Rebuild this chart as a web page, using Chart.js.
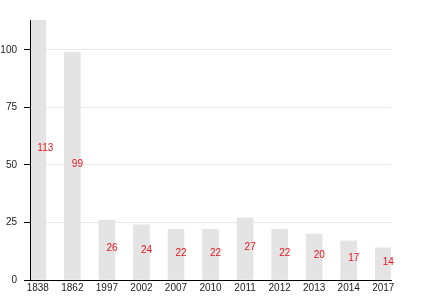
<!DOCTYPE html>
<html><head><meta charset="utf-8">
<script src="https://cdn.jsdelivr.net/npm/chart.js@4"></script>
<style>html,body{margin:0;padding:0;background:#fff}</style>
</head><body>
<canvas id="c" width="430" height="300"></canvas>
<script>
const categories = ['1838','1862','1997','2002','2007','2010','2011','2012','2013','2014','2017'];
const values = [113, 99, 26, 24, 22, 22, 27, 22, 20, 17, 14];
const yTicks = [0, 25, 50, 75, 100];
const yMax = 113;

const FONT = "'Liberation Sans', Arial, sans-serif";

const overlayPlugin = {
  id: 'overlay',
  afterDatasetsDraw(chart) {
    const ctx = chart.ctx;
    const meta = chart.getDatasetMeta(0);
    const ys = chart.scales.y;
    const area = chart.chartArea;
    ctx.save();
    // keep the y-axis line visible above the bars
    ctx.strokeStyle = '#000';
    ctx.lineWidth = 1;
    ctx.beginPath();
    const bx = Math.round(area.left) + 0.5;
    ctx.moveTo(bx, area.top);
    ctx.lineTo(bx, area.bottom);
    ctx.stroke();
    // value labels at half bar height
    ctx.fillStyle = '#e8141c';
    ctx.font = '10px ' + FONT;
    ctx.textAlign = 'left';
    ctx.textBaseline = 'alphabetic';
    meta.data.forEach((bar, i) => {
      const y = ys.getPixelForValue(values[i] / 2);
      ctx.fillText(String(values[i]), bar.x - 0.5, y + 1);
    });
    ctx.restore();
  }
};

new Chart(document.getElementById('c'), {
  type: 'bar',
  data: {
    datasets: [{
      data: values.map((v, i) => ({x: i, y: v})),
      backgroundColor: '#e4e4e4',
      borderWidth: 0,
      barThickness: 16
    }]
  },
  plugins: [overlayPlugin],
  options: {
    responsive: false,
    animation: false,
    events: [],
    layout: {padding: {left: 0, right: 39, top: 20, bottom: 0}},
    plugins: {legend: {display: false}, tooltip: {enabled: false}},
    scales: {
      x: {
        type: 'linear',
        offset: false,
        min: -0.226,
        max: 10.224,
        afterBuildTicks: s => { s.ticks = categories.map((_, i) => ({value: i})); },
        afterFit: s => { s.height = 20; s.paddingLeft = 0; s.paddingRight = 0; },
        grid: {display: false, offset: false, drawTicks: false},
        border: {display: true, color: '#000', width: 1},
        ticks: {
          autoSkip: false,
          maxRotation: 0,
          padding: 2,
          color: '#222',
          font: {family: FONT, size: 10},
          callback: v => categories[v] ?? ''
        }
      },
      y: {
        min: 0,
        max: yMax,
        afterBuildTicks: s => { s.ticks = yTicks.map(v => ({value: v})); },
        afterFit: s => { s.width = 30; },
        grid: {color: '#e8e8e8', tickColor: '#000', tickLength: 6, drawTicks: true},
        border: {display: true, color: '#000', width: 1},
        ticks: {
          padding: 7,
          color: '#222',
          font: {family: FONT, size: 10}
        }
      }
    }
  }
});
</script>
</body></html>
